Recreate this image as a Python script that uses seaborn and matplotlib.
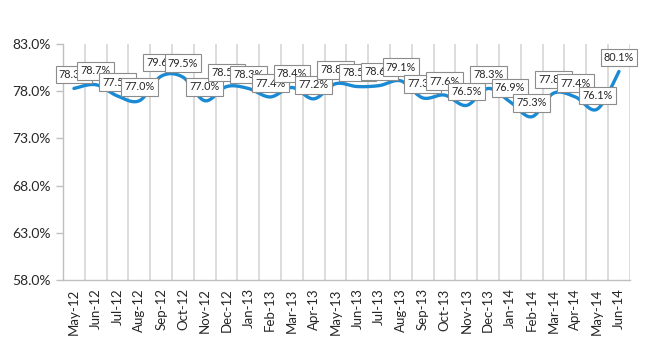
import numpy as np
import pandas as pd
import matplotlib
matplotlib.use('Agg')
import matplotlib.pyplot as plt
import seaborn as sns

# Monthly values (percent)
months = ['May-12', 'Jun-12', 'Jul-12', 'Aug-12', 'Sep-12', 'Oct-12', 'Nov-12', 'Dec-12',
          'Jan-13', 'Feb-13', 'Mar-13', 'Apr-13', 'May-13', 'Jun-13', 'Jul-13', 'Aug-13',
          'Sep-13', 'Oct-13', 'Nov-13', 'Dec-13', 'Jan-14', 'Feb-14', 'Mar-14', 'Apr-14',
          'May-14', 'Jun-14']
values = [78.3, 78.7, 77.5, 77.0, 79.6, 79.5, 77.0, 78.5,
          78.3, 77.4, 78.4, 77.2, 78.8, 78.5, 78.6, 79.1,
          77.3, 77.6, 76.5, 78.3, 76.9, 75.3, 77.8, 77.4,
          76.1, 80.1]
y_ticks = [58.0, 63.0, 68.0, 73.0, 78.0, 83.0]

sns.set_style('white')
plt.rcParams['font.family'] = ['Lato', 'DejaVu Sans']

df = pd.DataFrame({'pos': np.arange(len(months)), 'value': values})


# smoothed line like Excel's "smoothed line" option (Catmull-Rom)
def smooth(x, y, n=20):
    px = np.concatenate([[x[0]], x, [x[-1]]])
    py = np.concatenate([[y[0]], y, [y[-1]]])
    xs, ys = [], []
    t = np.linspace(0, 1, n)
    for i in range(1, len(px) - 2):
        for p, out in ((px, xs), (py, ys)):
            p0, p1, p2, p3 = p[i - 1], p[i], p[i + 1], p[i + 2]
            out.extend(0.5 * ((2 * p1) + (-p0 + p2) * t
                              + (2 * p0 - 5 * p1 + 4 * p2 - p3) * t ** 2
                              + (-p0 + 3 * p1 - 3 * p2 + p3) * t ** 3))
    return np.array(xs), np.array(ys)


sx, sy = smooth(df['pos'].to_numpy(float), df['value'].to_numpy(float))
curve = pd.DataFrame({'x': sx, 'y': sy})

fig = plt.figure(figsize=(6.5, 3.5), dpi=100)
ax = fig.add_axes([0.097, 0.2, 0.872, 0.674])

sns.lineplot(data=curve, x='x', y='y', ax=ax, color='#1a8ad4', linewidth=2.4, sort=False)

# data labels in boxes (they overlap, as in the original)
for i, v in enumerate(values):
    ax.annotate(f'{v:.1f}%', (i, v), xytext=(0, 10), textcoords='offset points',
                ha='center', va='center', fontsize=7.8,
                bbox=dict(boxstyle='square,pad=0.3', fc='white', ec='#8c8c8c', lw=0.8))

ax.set_xlim(-0.5, len(months) - 0.5)
ax.set_ylim(58, 83)
ax.set_yticks(y_ticks)
ax.set_yticklabels([f'{t:.1f}%' for t in y_ticks], fontsize=10)
ax.set_xticks(np.arange(len(months)))
ax.set_xticklabels(months, rotation=90, fontsize=9.5)
ax.set_xticks(np.arange(len(months) + 1) - 0.5, minor=True)
ax.tick_params(axis='x', which='major', length=0, pad=6)
ax.tick_params(axis='x', which='minor', length=5, color='#bfbfbf', width=1)
ax.tick_params(axis='y', length=5, color='#bfbfbf', width=1, left=True, pad=4)
ax.grid(axis='x', which='minor', color='#d9d9d9', linewidth=1.3)
ax.set_xlabel('')
ax.set_ylabel('')

for s in ['top', 'right']:
    ax.spines[s].set_visible(False)
for s in ['left', 'bottom']:
    ax.spines[s].set_color('#bfbfbf')
    ax.spines[s].set_linewidth(1)

fig.savefig('out.png', dpi=100)
